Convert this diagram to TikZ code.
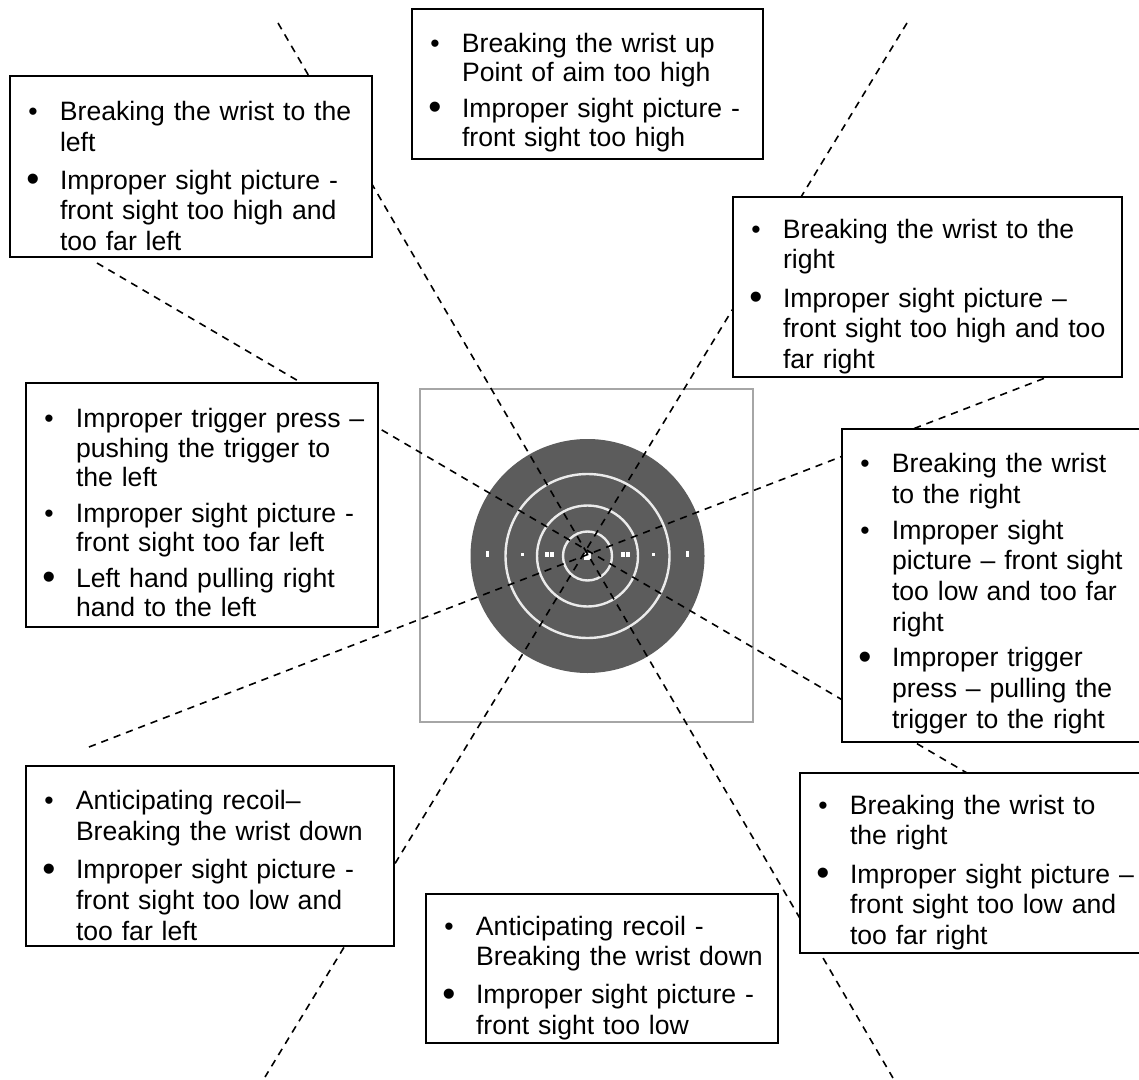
\documentclass[tikz,border=0pt]{standalone}
\usepackage{fontspec}
\setmainfont{Liberation Sans}
\usepackage{graphicx}

\newlength\bulgap
% one bulleted entry, text hangs under the first line
\newcommand\bul[1]{\par\parskip=\bulgap\hangindent=25pt\hangafter=1\noindent
  \makebox[25pt][l]{\hspace{9.2pt}\textbullet}#1\par}
\newcommand\bigbul[1]{\par\parskip=\bulgap\hangindent=25pt\hangafter=1\noindent
  \makebox[25pt][l]{\hspace{8.2pt}\raisebox{-0.09em}{\scalebox{1.4}{\textbullet}}}#1\par}

\tikzset{
  itemgap/.code={\setlength\bulgap{#1}},
  note/.style={draw, line width=1pt, fill=white, inner sep=0pt, align=left,
    font=\fontsize{13.3}{15.35}\selectfont, itemgap=3.75pt},
  guide/.style={line width=0.8pt, dash pattern=on 3.6pt off 3pt},
  ring/.style={white!92!black, line width=1.2pt},
}

\begin{document}
\begin{tikzpicture}[x=0.5pt, y=-0.5pt]
  \useasboundingbox (0,0) rectangle (1139,1080);
  \clip (0,0) rectangle (1139,1080);

  % target
  \coordinate (bull) at (587.5,556);
  \draw[black!35, line width=1.2pt] (420,389) rectangle (753,722);
  \fill[black!64] (bull) circle[radius=117];
  \draw[ring] (bull) circle[radius=82];
  \draw[ring] (bull) circle[radius=50.5];
  \draw[ring] (bull) circle[radius=24.5];
  \foreach \x in {487,687}
    \fill[white] (\x-1.5,551) rectangle (\x+1.5,557);
  \foreach \x in {522,653}
    \fill[white] (\x-1.5,552.5) rectangle (\x+1.5,555.5);
  \foreach \x in {547,552,623,628}
    \fill[white] (\x-2,552) rectangle (\x+2,557);
  \fill[white] (584,553) rectangle (591,560);

  % sight lines
  \coordinate (nnw) at (278,23);
  \coordinate (sse) at (893,1078);
  \coordinate (nne) at (907,23);
  \coordinate (ssw) at (265,1077);
  \coordinate (wnw) at (97,263);
  \coordinate (ese) at (967,773);
  \coordinate (wsw) at (89,747);
  \coordinate (ene) at (1045,378);
  \draw[guide] (nnw) -- (sse);
  \draw[guide] (nne) -- (ssw);
  \draw[guide] (wnw) -- (ese);
  \draw[guide] (wsw) -- (ene);

  % notes
  \node[note, text width=181pt, minimum height=90.5pt] (tl) at (191,166.5) {%
    \bul{Breaking the wrist to the\newline left}%
    \bigbul{Improper sight picture -\newline front sight too high and\newline too far left}};
  \node[note, text width=175.5pt, minimum height=75pt,
    font=\fontsize{13.3}{14.6}\selectfont, itemgap=3.5pt] (tc) at (587.5,84) {%
    \bul{Breaking the wrist up\newline Point of aim too high}%
    \bigbul{Improper sight picture -\newline front sight too high}};
  \node[note, text width=194.5pt, minimum height=90pt] (tr) at (927.5,287) {%
    \bul{Breaking the wrist to the\newline right}%
    \bigbul{Improper sight picture –\newline front sight too high and too\newline far right}};
  \node[note, text width=176pt, minimum height=122pt,
    font=\fontsize{13.3}{14.8}\selectfont, itemgap=2.9pt] (ml) at (202,504.5) {%
    \bul{Improper trigger press –\newline pushing the trigger to\newline the left}%
    \bul{Improper sight picture -\newline front sight too far left}%
    \bigbul{Left hand pulling right\newline hand to the left}};
  \node[note, text width=159pt, minimum height=156.5pt, itemgap=2.4pt] (mr) at (1001,585.5) {%
    \bul{Breaking the wrist\newline to the right}%
    \bul{Improper sight\newline picture – front sight\newline too low and too far\newline right}%
    \bigbul{Improper trigger\newline press – pulling the\newline trigger to the right}};
  \node[note, text width=184pt, minimum height=90pt] (bl) at (210,856) {%
    \bul{Anticipating recoil–\newline Breaking the wrist down}%
    \bigbul{Improper sight picture -\newline front sight too low and\newline too far left}};
  \node[note, text width=176pt, minimum height=74.5pt] (bc) at (602,968.5) {%
    \bul{Anticipating recoil -\newline Breaking the wrist down}%
    \bigbul{Improper sight picture -\newline front sight too low}};
  \node[note, text width=180pt, minimum height=90pt] (br) at (980,863) {%
    \bul{Breaking the wrist to\newline the right}%
    \bigbul{Improper sight picture –\newline front sight too low and\newline too far right}};
\end{tikzpicture}
\end{document}
